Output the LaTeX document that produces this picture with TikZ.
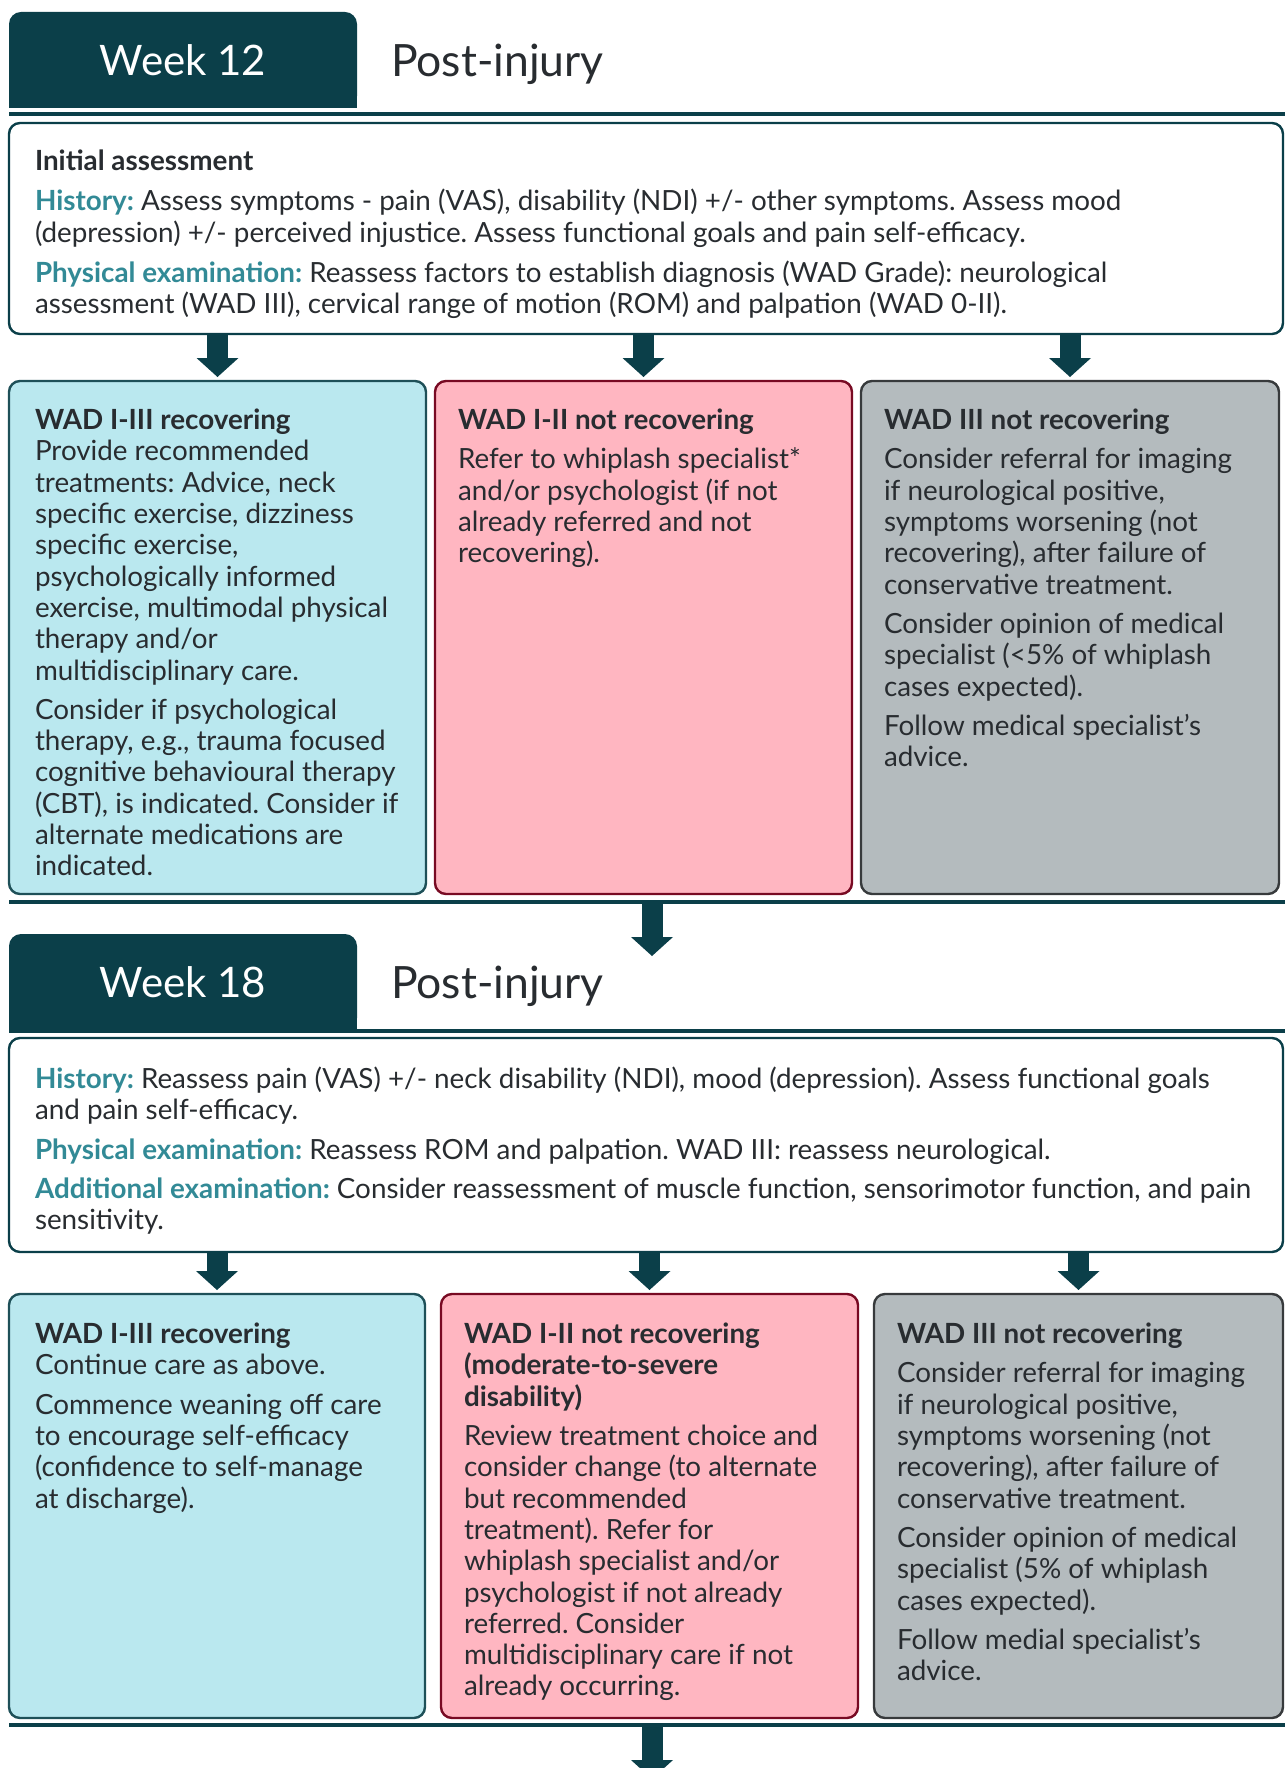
\documentclass[tikz,border=0pt]{standalone}
\usepackage{fontspec}
\setmainfont{Lato}
\usetikzlibrary{arrows.meta,positioning,backgrounds}

\definecolor{wkteal}{RGB}{11,63,73}
\definecolor{hlteal}{RGB}{50,138,150}
\definecolor{txtgray}{RGB}{40,44,48}
\definecolor{recfill}{RGB}{186,232,239}
\definecolor{recline}{RGB}{30,80,88}
\definecolor{notfill}{RGB}{255,182,193}
\definecolor{notline}{RGB}{120,10,35}
\definecolor{imgfill}{RGB}{180,187,190}
\definecolor{imgline}{RGB}{55,58,60}

\newcommand{\hl}[1]{{\color{hlteal}\textbf{#1}}}
\frenchspacing

\begin{document}
\begin{tikzpicture}[
    x=1pt, y=-1pt,
    every node/.style={inner sep=0pt, outer sep=0pt},
    txt/.style={align=left, text=txtgray, font=\fontsize{27.8}{31.3}\selectfont},
    tab/.style={minimum width=348pt, minimum height=96pt, text=white, font=\fontsize{42}{50}\selectfont},
    post/.style={text=txtgray, font=\fontsize{44.5}{52}\selectfont, yshift=-4pt},
    box/.style={draw, rounded corners=11pt, line width=2.4pt, anchor=north west},
    infobox/.style={box, fill=white, draw=wkteal},
    recbox/.style={box, fill=recfill, draw=recline},
    notbox/.style={box, fill=notfill, draw=notline},
    imgbox/.style={box, fill=imgfill, draw=imgline},
    rule/.style={draw=wkteal, line width=4pt},
    flow/.style={draw=wkteal, line width=21pt, -{Triangle[width=42pt,length=19pt,line width=0pt]}, shorten >=4pt}
]
  \useasboundingbox (0,0) rectangle (1285,1768);
  \clip (0,0) rectangle (1285,1768);

  % week 12 header
  \node[tab] (wk12) at (183,60) {Week 12};
  \node[post, right=34pt of wk12] (pi12) {Post-injury};
  \draw[rule] (9,114) -- (1285,114);

  % week 12 boxes
  \node[infobox, minimum width=1274pt, minimum height=211pt] (ia12) at (9,123) {};
  \node[recbox, minimum width=417pt, minimum height=513pt] (rec12) at (9,381) {};
  \node[notbox, minimum width=417pt, minimum height=513pt] (not12) at (435,381) {};
  \node[imgbox, minimum width=418pt, minimum height=513pt] (img12) at (861,381) {};

  \node[txt, below right=27pt and 26pt of ia12.north west] (ia12t) {%
    \textbf{Initial assessment}\\[9pt]
    \hl{History:} Assess symptoms - pain (VAS), disability (NDI) +/- other symptoms. Assess mood\\
    (depression) +/- perceived injustice. Assess functional goals and pain self-efficacy.\\[9pt]
    \hl{Physical examination:} Reassess factors to establish diagnosis (WAD Grade): neurological\\
    assessment (WAD III), cervical range of motion (ROM) and palpation (WAD 0-II).};

  \node[txt, below right=28pt and 26pt of rec12.north west] (rec12t) {%
    \textbf{WAD I-III recovering}\\
    Provide recommended\\
    treatments: Advice, neck\\
    specific exercise, dizziness\\
    specific exercise,\\
    psychologically informed\\
    exercise, multimodal physical\\
    therapy and/or\\
    multidisciplinary care.\\[8pt]
    Consider if psychological\\
    therapy, e.g., trauma focused\\
    cognitive behavioural therapy\\
    (CBT), is indicated. Consider if\\
    alternate medications are\\
    indicated.};

  \node[txt, below right=28pt and 23pt of not12.north west] (not12t) {%
    \textbf{WAD I-II not recovering}\\[8pt]
    Refer to whiplash specialist*\\
    and/or psychologist (if not\\
    already referred and not\\
    recovering).};

  \node[txt, below right=28pt and 23pt of img12.north west] (img12t) {%
    \textbf{WAD III not recovering}\\[8pt]
    Consider referral for imaging\\
    if neurological positive,\\
    symptoms worsening (not\\
    recovering), after failure of\\
    conservative treatment.\\[8pt]
    Consider opinion of medical\\
    specialist (<5\% of whiplash\\
    cases expected).\\[8pt]
    Follow medical specialist’s\\
    advice.};

  \foreach \b in {rec12, not12, img12}
    \draw[flow] (ia12.south -| \b.north) -- (\b.north);

  \draw[rule] (9,902) -- (1285,902);
  \coordinate (s12) at (652,902);
  \coordinate (e12) at (652,960);
  \draw[flow] (s12) -- (e12);

  % week 18 header
  \node[tab] (wk18) at (183,982) {Week 18};
  \node[post, right=34pt of wk18] (pi18) {Post-injury};
  \draw[rule] (9,1031) -- (1285,1031);

  % week 18 boxes
  \node[infobox, minimum width=1274pt, minimum height=214pt] (ia18) at (9,1038) {};
  \node[recbox, minimum width=416pt, minimum height=424pt] (rec18) at (9,1294) {};
  \node[notbox, minimum width=417pt, minimum height=424pt] (not18) at (441,1294) {};
  \node[imgbox, minimum width=409pt, minimum height=424pt] (img18) at (874,1294) {};

  \node[txt, below right=29pt and 26pt of ia18.north west] (ia18t) {%
    \hl{History:} Reassess pain (VAS) +/- neck disability (NDI), mood (depression). Assess functional goals\\
    and pain self-efficacy.\\[8pt]
    \hl{Physical examination:} Reassess ROM and palpation. WAD III: reassess neurological.\\[8pt]
    \hl{Additional examination:} Consider reassessment of muscle function, sensorimotor function, and pain\\
    sensitivity.};

  \node[txt, below right=29pt and 26pt of rec18.north west] (rec18t) {%
    \textbf{WAD I-III recovering}\\
    Continue care as above.\\[8pt]
    Commence weaning off care\\
    to encourage self-efficacy\\
    (confidence to self-manage\\
    at discharge).};

  \node[txt, below right=29pt and 23pt of not18.north west] (not18t) {%
    \textbf{WAD I-II not recovering}\\
    \textbf{(moderate-to-severe}\\
    \textbf{disability)}\\[8pt]
    Review treatment choice and\\
    consider change (to alternate\\
    but recommended\\
    treatment). Refer for\\
    whiplash specialist and/or\\
    psychologist if not already\\
    referred. Consider\\
    multidisciplinary care if not\\
    already occurring.};

  \node[txt, below right=29pt and 23pt of img18.north west] (img18t) {%
    \textbf{WAD III not recovering}\\[8pt]
    Consider referral for imaging\\
    if neurological positive,\\
    symptoms worsening (not\\
    recovering), after failure of\\
    conservative treatment.\\[8pt]
    Consider opinion of medical\\
    specialist (5\% of whiplash\\
    cases expected).\\[8pt]
    Follow medial specialist’s\\
    advice.};

  \foreach \b in {rec18, not18, img18}
    \draw[flow] (ia18.south -| \b.north) -- (\b.north);

  \draw[rule] (9,1725) -- (1285,1725);
  \coordinate (s18) at (652,1725);
  \coordinate (e18) at (652,1783);
  \draw[flow] (s18) -- (e18);

  % tab fills
  \begin{scope}[on background layer]
    \foreach \t in {wk12, wk18} {
      \fill[wkteal, rounded corners=12pt] (\t.south west) rectangle (\t.north east);
      \fill[wkteal] (\t.south west) rectangle (\t.east);
    }
  \end{scope}

\end{tikzpicture}
\end{document}
